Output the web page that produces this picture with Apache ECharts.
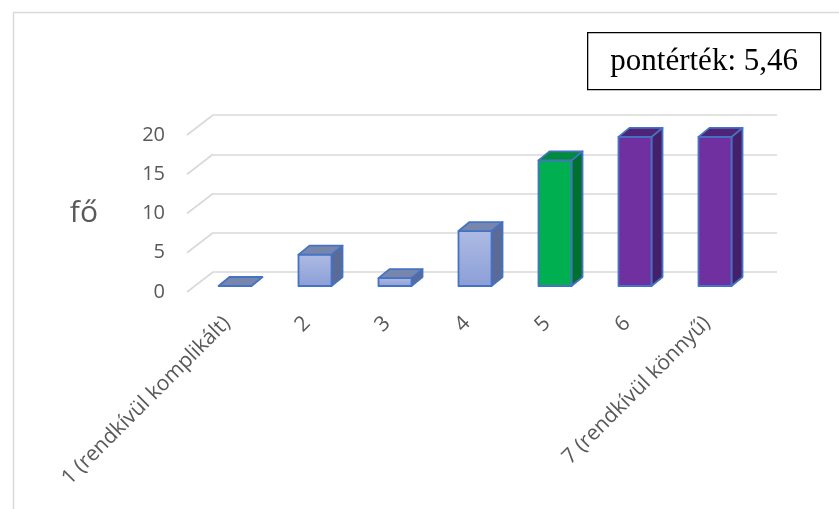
<!DOCTYPE html>
<html>
<head>
<meta charset="utf-8">
<script src="https://cdn.jsdelivr.net/npm/echarts@6/dist/echarts.min.js"></script>
<style>
  html, body { margin: 0; padding: 0; background: #fff; }
  #chart { width: 839px; height: 509px; }
</style>
</head>
<body>
<div id="chart"></div>
<script>
// data
const categories = ['1 (rendkívül komplikált)', '2', '3', '4', '5', '6', '7 (rendkívül könnyű)'];
const values = [0, 4, 1, 7, 16, 19, 19];
const yTicks = [0, 5, 10, 15, 20];
const yAxisName = 'fő';
const boxText = 'pontérték: 5,46';

// which colour set each bar uses
const barGroup = ['blue', 'blue', 'blue', 'blue', 'green', 'purple', 'purple'];
const palette = {
  blue:   { front: ['#aebbe4', '#8b9ed6'], top: '#7786ad', side: '#5c6a97' },
  green:  { front: ['#00b050', '#00b050'], top: '#008a3e', side: '#00702f' },
  purple: { front: ['#7030a0', '#7030a0'], top: '#4f2477', side: '#44206a' }
};

const gridColor = '#d9d9d9';
const textColor = '#595959';
const font = '"Open Sans", sans-serif';

// 3D look
const depthX = 26, depthY = 20;      // front plane -> back wall
const barShiftX = 8, barShiftY = 6;  // front plane -> bar plane
const barW = 33, barDx = 11, barDy = 9;
const edge = '#4472c4';

const chart = echarts.init(document.getElementById('chart'));

function renderBar(params, api) {
  const i = api.value(0);
  const v = api.value(1);
  const top = api.coord([i, v]);
  const base = api.coord([i, 0]);
  const cx = top[0] + barShiftX;
  const yT = top[1] - barShiftY;
  const yB = base[1] - barShiftY;
  const x0 = cx - barW / 2;
  const x1 = cx + barW / 2;
  const c = palette[barGroup[i]];
  const stroke = { stroke: edge, lineWidth: 1.8, lineJoin: 'round' };
  const children = [];
  if (yB - yT > 0.5) {
    children.push({
      type: 'polygon',
      shape: { points: [[x1, yT], [x1 + barDx, yT - barDy], [x1 + barDx, yB - barDy], [x1, yB]] },
      style: Object.assign({ fill: c.side }, stroke)
    });
    children.push({
      type: 'rect',
      shape: { x: x0, y: yT, width: barW, height: yB - yT },
      style: Object.assign({
        fill: new echarts.graphic.LinearGradient(0, 0, 0, 1, [
          { offset: 0, color: c.front[0] },
          { offset: 1, color: c.front[1] }
        ])
      }, stroke)
    });
  }
  children.push({
    type: 'polygon',
    shape: { points: [[x0, yT], [x1, yT], [x1 + barDx, yT - barDy], [x0 + barDx, yT - barDy]] },
    style: Object.assign({ fill: c.top }, stroke)
  });
  return { type: 'group', children: children };
}

function renderDiag(params, api) {
  const v = api.value(0);
  const p = api.coord([0, v]);
  const x = params.coordSys.x;
  return {
    type: 'line',
    shape: { x1: x, y1: p[1], x2: x + depthX, y2: p[1] - depthY },
    style: { stroke: gridColor, lineWidth: 1.6 },
    z2: 0
  };
}

const option = {
  animation: false,
  backgroundColor: '#fff',
  grid: [
    { left: 187, top: 135, width: 560, height: 157 },                 // front plane
    { left: 187 + depthX, top: 135 - depthY, width: 564, height: 157 } // back wall
  ],
  xAxis: [
    {
      gridIndex: 0,
      type: 'category',
      data: categories,
      axisLine: { show: false },
      axisTick: { show: false },
      axisLabel: { rotate: 45, margin: 28, color: textColor, fontSize: 21, fontFamily: font, interval: 0 }
    },
    {
      gridIndex: 1,
      type: 'category',
      data: categories,
      show: false
    }
  ],
  yAxis: [
    {
      gridIndex: 0,
      type: 'value',
      min: 0, max: 20, interval: 5,
      name: yAxisName,
      nameLocation: 'middle',
      nameRotate: 0,
      nameGap: 89,
      nameTextStyle: { color: textColor, fontSize: 30, fontFamily: font },
      axisLine: { show: false },
      axisTick: { show: false },
      splitLine: { show: false },
      axisLabel: { margin: 22, color: textColor, fontSize: 20, fontFamily: font }
    },
    {
      gridIndex: 1,
      type: 'value',
      min: 0, max: 20, interval: 5,
      axisLine: { show: false },
      axisTick: { show: false },
      axisLabel: { show: false },
      splitLine: { lineStyle: { color: gridColor, width: 1.6 } }
    }
  ],
  series: [
    {
      type: 'custom',
      xAxisIndex: 0, yAxisIndex: 0,
      data: yTicks.map(v => [v]),
      renderItem: renderDiag,
      silent: true,
      z: 1
    },
    {
      type: 'custom',
      xAxisIndex: 0, yAxisIndex: 0,
      data: values.map((v, i) => [i, v]),
      renderItem: renderBar,
      z: 3
    }
  ],
  graphic: [
    {
      type: 'rect',
      left: 11, top: 10,
      shape: { width: 840, height: 520 },
      style: { fill: 'none', stroke: gridColor, lineWidth: 1.5 },
      silent: true
    },
    {
      type: 'group',
      left: 587, top: 32,
      children: [
        {
          type: 'rect',
          shape: { width: 233, height: 57 },
          style: { fill: '#fff', stroke: '#000', lineWidth: 1.3 }
        },
        {
          type: 'text',
          x: 116.5, y: 29,
          style: {
            text: boxText,
            fill: '#000',
            font: '31px "Liberation Serif", serif',
            align: 'center',
            verticalAlign: 'middle'
          }
        }
      ]
    }
  ]
};

chart.setOption(option);
</script>
</body>
</html>
